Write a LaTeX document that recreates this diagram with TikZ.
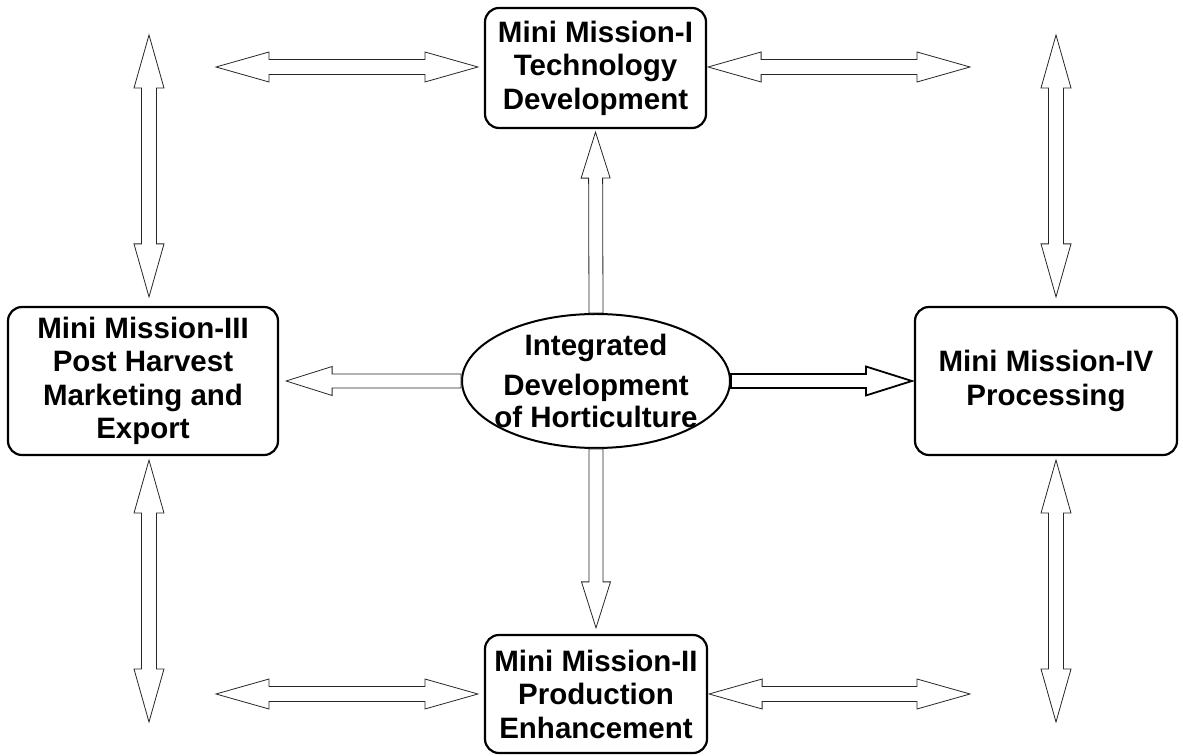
\documentclass[tikz,border=0pt]{standalone}
\usepackage{fontspec}
\setmainfont{Liberation Sans}
\usetikzlibrary{calc,shapes.geometric}
\tikzset{
  mission/.style={draw, line width=2.2pt, rounded corners=14pt, align=center, inner sep=2pt,
    font=\fontsize{29.5}{33.5}\selectfont\bfseries},
  hub/.style={draw, ellipse, line width=2pt, align=center, inner xsep=-8pt, inner ysep=-6pt,
    minimum width=268pt, minimum height=134pt, font=\fontsize{29.5}{32}\selectfont\bfseries},
  blockarrow/.style={draw=black!85, line width=0.8pt, fill=white, line join=miter},
  boldarrow/.style={draw=black, line width=1.8pt}
}
% hollow block arrow, one head at the second point
\newcommand{\singleblock}[3][]{%
  \draw[blockarrow,#1] let \p1=#2, \p2=#3, \p3=($(\p2)!46pt!(\p1)$) in
    ($(\p1)!7pt!90:(\p2)$) -- ($(\p3)!7pt!90:(\p2)$) -- ($(\p3)!14.5pt!90:(\p2)$) -- (\p2)
    -- ($(\p3)!14.5pt!-90:(\p2)$) -- ($(\p3)!7pt!-90:(\p2)$) -- ($(\p1)!7pt!-90:(\p2)$) -- cycle;}
% hollow block arrow, heads at both points
\newcommand{\doubleblock}[3][]{%
  \draw[blockarrow,#1] let \p1=#2, \p2=#3, \p3=($(\p1)!53pt!(\p2)$), \p4=($(\p2)!53pt!(\p1)$) in
    (\p1) -- ($(\p3)!15pt!90:(\p2)$) -- ($(\p3)!7.5pt!90:(\p2)$) -- ($(\p4)!7.5pt!-90:(\p1)$)
    -- ($(\p4)!15pt!-90:(\p1)$) -- (\p2) -- ($(\p4)!15pt!90:(\p1)$) -- ($(\p4)!7.5pt!90:(\p1)$)
    -- ($(\p3)!7.5pt!-90:(\p2)$) -- ($(\p3)!15pt!-90:(\p2)$) -- cycle;}

\begin{document}
\begin{tikzpicture}[x=1pt, y=1pt]
  \useasboundingbox (0,0) rectangle (1183,755);

  \node[hub] (ell) at (596,374) {Integrated\\[8pt]Development\\of Horticulture};
  \node[mission, minimum width=221pt, minimum height=120pt] (mm1) at (595.5,687) {Mini Mission-I\\Technology\\Development};
  \node[mission, minimum width=222pt, minimum height=118pt] (mm2) at (596,61) {Mini Mission-II\\Production\\Enhancement};
  \node[mission, minimum width=270pt, minimum height=148pt] (mm3) at (143,374) {Mini Mission-III\\Post Harvest\\Marketing and\\Export};
  \node[mission, minimum width=262pt, minimum height=148pt] (mm4) at (1046,374) {Mini Mission-IV\\Processing};

  % free ends of the corner arrows
  \coordinate (c1) at (216,688);
  \coordinate (c2) at (970,688);
  \coordinate (c3) at (149,720);
  \coordinate (c4) at (149,33);
  \coordinate (c5) at (1056,720);
  \coordinate (c6) at (1056,33);
  \coordinate (c7) at (216,61);
  \coordinate (c8) at (970,61);

  % from the centre
  \singleblock{(ell.north)}{([yshift=-3pt]mm1.south)}
  \singleblock{(ell.south)}{([yshift=6pt]mm2.north)}
  \singleblock{(ell.west)}{([xshift=7pt]mm3.east)}
  \singleblock[boldarrow]{(ell.east)}{([xshift=-2pt]mm4.west)}

  % round the edge
  \doubleblock{(c1)}{($(c1-|mm1.west)+(-6,0)$)}
  \doubleblock{($(c2-|mm1.east)+(1,0)$)}{(c2)}
  \doubleblock{(c7)}{($(c7-|mm2.west)+(-6,0)$)}
  \doubleblock{($(c8-|mm2.east)+(1,0)$)}{(c8)}
  \doubleblock{(c3)}{($(c3|-mm3.north)+(0,9)$)}
  \doubleblock{($(c4|-mm3.south)+(0,-4)$)}{(c4)}
  \doubleblock{(c5)}{($(c5|-mm4.north)+(0,9)$)}
  \doubleblock{($(c6|-mm4.south)+(0,-4)$)}{(c6)}
\end{tikzpicture}
\end{document}
